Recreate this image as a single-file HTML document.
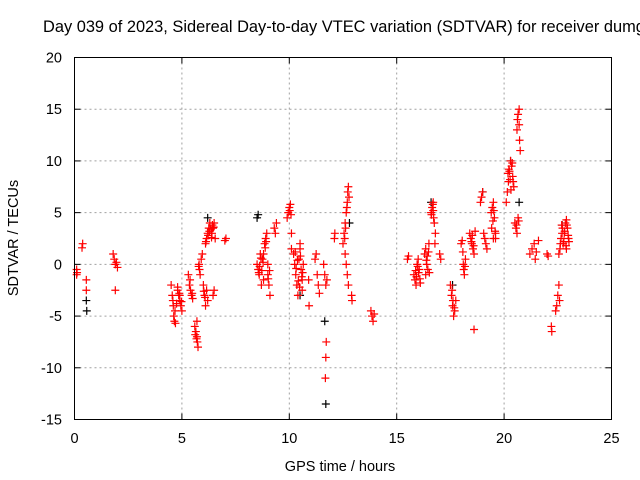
<!DOCTYPE html>
<html><head><meta charset="utf-8"><style>
body{margin:0;background:#fff}
svg{display:block;font-family:"Liberation Sans",sans-serif}
</style></head><body>
<svg id="chart" width="640" height="480" viewBox="0 0 640 480">
<text x="43" y="32" font-size="16.4" fill="#000">Day 039 of 2023, Sidereal Day-to-day VTEC variation (SDTVAR) for receiver dumg</text>
<g id="grid"></g>
<g id="black"></g>
<g id="red"></g>
<rect x="74.5" y="57.5" width="537" height="362" fill="none" stroke="#000" stroke-width="1"/>
<g id="ticks"></g>
<text x="340" y="471" font-size="14.5" text-anchor="middle">GPS time / hours</text>
<text transform="translate(18,238) rotate(-90)" font-size="14.5" text-anchor="middle">SDTVAR / TECUs</text>
</svg>
<script>
const xTicks=[0,5,10,15,20,25];
const yTicks=[-15,-10,-5,0,5,10,15,20];
const redT=[
0.1,0.1,0.12,
0.35,0.38,
0.55,0.55,
1.8,1.85,1.9,1.95,2.0,1.9,
4.5,4.55,4.6,4.62,4.65,4.7,
4.8,4.85,4.9,4.95,5.0,4.9,4.8,
5.3,5.35,5.4,5.45,5.5,
5.6,5.65,5.7,5.72,5.75,5.7,
5.8,5.82,5.85,5.9,5.95,
6.0,6.05,6.1,6.15,6.2,
6.1,6.15,6.2,6.25,6.3,
6.4,6.45,6.5,6.55,6.5,6.45,
7.0,7.05,
8.5,8.55,8.6,8.65,8.7,8.75,8.8,
8.8,8.85,8.9,8.95,9.0,9.05,9.1,9.0,
9.3,9.35,9.4,
9.9,9.95,10.0,10.05,10.1,10.1,
10.2,10.25,10.3,10.35,10.4,10.45,10.5,10.5,10.55,10.6,10.6,10.65,
10.9,10.92,
11.2,11.25,11.3,11.35,11.4,
11.6,11.65,11.7,11.75,
11.72,11.7,11.68,
12.1,12.12,
12.5,12.55,12.6,12.65,12.7,12.72,12.75,
12.6,12.65,12.7,12.75,
12.9,12.92,
13.8,13.85,13.9,13.95,
15.5,15.55,
15.8,15.85,15.9,15.95,16.0,16.05,16.1,
16.3,16.35,16.4,16.45,16.5,16.35,
16.6,16.65,16.7,16.72,16.75,16.8,16.78,
17.0,17.05,
17.5,17.55,17.6,17.65,17.7,17.75,
18.0,18.05,
18.1,18.12,18.15,18.2,
18.4,18.45,18.5,18.55,18.6,18.65,18.6,
18.9,18.95,19.0,19.05,19.1,19.15,19.2,
19.4,19.45,19.5,19.55,19.6,19.5,19.6,
20.1,20.15,20.2,20.25,20.3,20.35,20.4,20.45,
20.5,20.55,20.6,20.65,
20.6,20.62,20.65,20.7,20.72,20.75,
21.2,21.3,21.4,21.45,21.5,21.6,
22.0,22.05,
22.2,22.22,
22.4,22.45,22.5,22.55,
22.55,22.6,22.62,22.65,22.7,22.72,
22.75,22.8,22.85,22.9,22.95,23.0,22.9,
4.58,4.68,4.75,4.88,4.98,
5.38,5.48,
5.62,5.68,5.78,
6.02,6.08,
6.12,6.22,6.28,6.35,6.38,6.42,6.48,
8.58,8.62,8.68,8.72,8.78,8.88,8.92,9.02,9.08,
10.02,10.08,
10.28,10.32,10.38,10.42,10.48,10.52,10.58,10.62,
12.58,12.62,12.68,12.78,
15.88,15.92,15.98,16.02,16.08,
16.38,16.42,16.48,16.52,
16.62,16.68,16.7,
17.58,17.62,17.68,
18.08,18.18,
18.48,18.52,18.58,
19.42,19.48,19.52,19.58,
20.18,20.22,20.28,20.32,20.38,20.42,
20.58,20.68,20.7,
22.58,22.68,22.78,22.82,22.88,22.92,22.98,23.02];
const redV=[
-0.5,-1,-0.8,
1.6,2.0,
-1.5,-2.5,
1,0.5,0,0.2,-0.3,-2.5,
-2,-3,-4,-5,-5.5,-5.7,
-2.5,-3,-3.5,-4,-4.5,-3,-2.2,
-1,-2,-2.5,-3,-3.3,
-6,-6.5,-7,-7.5,-8,-5.5,
0,-0.5,-1,0.5,1,
-2,-3,-4,-2.5,-3.5,
2,2.5,3,3.5,4,
3,3.5,4,2.5,-2.5,-3,
2.3,2.5,
0,-0.5,-1,1,-2,0.5,-1.5,
1,2,2.5,3,-1,-2,-3,0,
3.5,3,4,
4.5,5,5.5,5.8,3,1.5,
1,0,-1,-2,-3,0.5,1.5,2,-0.5,-1.5,-2.5,0,
-1.5,-4,
0.5,1,-1,-2,-2.8,
0,-1,-2,-1.5,
-7.5,-9,-11,
2.5,3,
2,3,4,5,6,7,7.5,
1,0,-1,-2,
-3,-3.5,
-4.5,-5,-5.5,-4.8,
0.5,0.8,
-1,-1.5,-2,0,0.5,-0.5,-1.8,
1,1.5,0,-0.5,2,-1,
5,5.5,6,4.5,4,3,2,
1,0.5,
-2,-3,-4,-5,-4.5,-3.5,
2,2.3,
0,-0.5,-1,0.5,
3,2.5,2,1.5,1,3.2,-6.3,
6,6.5,7,3,2.5,2,1.5,
5,5.5,6,4.5,3,2.5,2.5,
6,7,8,9,10,9.5,8.5,7.5,
4,3.5,3,4.5,
13,14,14.5,15,12,11,
1,1.5,2,0.5,1.2,2.3,
1,0.8,
-6,-6.5,
-4.5,-4,-3,-2,
1,1.5,2,2.5,3,3.5,
2,3,4,4.3,3.5,2.5,1.5,
-3.5,-4.5,-3.8,-2.8,-3.6,
-1.5,-2.8,
-6.8,-7.2,-0.2,
-2.6,-3.2,
2.2,2.8,3.2,3.4,2.6,3.8,3.6,
-0.8,-0.2,0.6,-0.6,0.2,1.6,2.2,-1.4,-0.6,
5.2,4.8,
1.2,-0.4,0.4,-1.6,-2.2,0.8,-1.2,-0.8,
2.5,3.5,5.5,6.5,
-0.6,-1.2,-0.2,-0.8,-1.4,
0.4,0.8,1.2,-0.8,
4.8,5.8,5.2,
-2.5,-3.5,-4.2,
1.2,-0.2,
2.2,2.8,1.8,
3.5,4.2,5.2,3.2,
8.8,9.2,8.2,7.2,9.8,8,
3.8,4.2,13.5,
-3.5,3.8,2.2,3.2,1.8,3.8,2.8,2.2];
const blackT=[0.55,0.57,8.5,8.55,11.65,11.7,12.8,16.6,19.0,20.3,20.7,22.7,6.2,10.5,17.6];
const blackV=[-3.5,-4.5,4.5,4.8,-5.5,-13.5,4,6,7,10,6,3.8,4.5,-3,-2];
const X0=74.5,X1=611.5,Y0=419.5,Y1=57.5;
function sx(t){return X0+(t-0)/25*(X1-X0);}
function sy(v){return Y0-(v+15)/35*(Y0-Y1);}
const NS="http://www.w3.org/2000/svg";
function mk(tag,attrs,parent){const e=document.createElementNS(NS,tag);for(const k in attrs)e.setAttribute(k,attrs[k]);parent.appendChild(e);return e;}
const grid=document.getElementById('grid'),ticks=document.getElementById('ticks');
xTicks.forEach(t=>{const x=sx(t);
 if(t>0&&t<25){const g=mk('line',{x1:x,x2:x,y1:Y1,y2:Y0,stroke:'#a0a0a0','stroke-dasharray':'2,3'},grid);
 
 }
 mk('line',{x1:x,x2:x,y1:Y0,y2:Y0-6,stroke:'#000'},ticks);
 mk('line',{x1:x,x2:x,y1:Y1,y2:Y1+6,stroke:'#000'},ticks);
 const l=mk('text',{x:x,y:443,'font-size':'14.5','text-anchor':'middle'},ticks);l.textContent=t;
 
 
});
yTicks.forEach(v=>{const y=sy(v);
 if(v>-15&&v<20){const g=mk('line',{x1:X0,x2:X1,y1:y,y2:y,stroke:'#a0a0a0','stroke-dasharray':'2,3'},grid);
 
 }
 mk('line',{x1:X0,x2:X0+6,y1:y,y2:y,stroke:'#000'},ticks);
 mk('line',{x1:X1,x2:X1-6,y1:y,y2:y,stroke:'#000'},ticks);
 const l=mk('text',{x:62,y:y+5,'font-size':'14.5','text-anchor':'end'},ticks);l.textContent=v;
 
 
});
function plot(T,V,col,gid){const g=document.getElementById(gid);
 T.forEach((t,i)=>{const x=sx(t),y=sy(V[i]);
  const p=mk('path',{d:`M${x-4},${y}H${x+4}M${x},${y-4}V${y+4}`,stroke:col,'stroke-width':'1.2'},g);
  
  
 });}
plot(blackT,blackV,'#000','black');
plot(redT,redV,'#ff0000','red');
</script>
</body></html>
